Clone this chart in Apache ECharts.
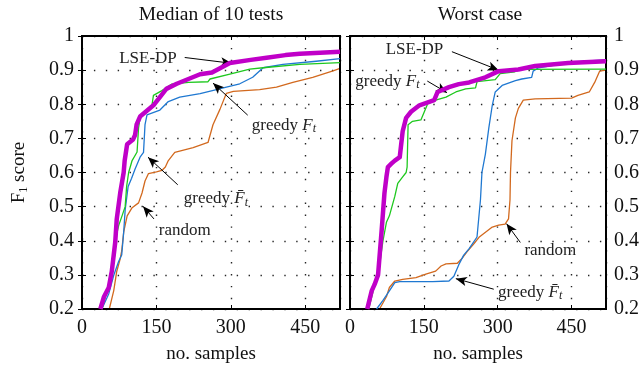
<!DOCTYPE html>
<html><head><meta charset="utf-8">
<script src="https://cdn.jsdelivr.net/npm/echarts@6/dist/echarts.min.js"></script>
<style>html,body{margin:0;padding:0;background:#fff}#c{width:642px;height:369px}</style>
</head><body><div id="c"></div>
<script>
// ---- data ----
const panelTitles = ['Median of 10 tests', 'Worst case'];
const xTickValues = [0, 150, 300, 450];
const yTickValues = [0.2, 0.3, 0.4, 0.5, 0.6, 0.7, 0.8, 0.9, 1];
const seriesNames = ['random', 'greedy F̄t', 'greedy Ft', 'LSE-DP'];

// Median of 10 tests
const medRandom = [[55,0.2],[64,0.254],[70,0.31],[77,0.347],[80,0.37],[84,0.425],[91,0.473],[101,0.497],[114,0.511],[121,0.54],[127,0.575],[134,0.597],[150,0.602],[161,0.606],[168,0.616],[174,0.635],[187,0.659],[224,0.673],[254,0.688],[264,0.74],[278,0.785],[291,0.832],[305,0.838],[358,0.843],[392,0.85],[425,0.864],[465,0.879],[506,0.898],[520,0.905]];
const medGreedyFbar = [[40,0.2],[54,0.245],[64,0.299],[74,0.34],[80,0.358],[84,0.425],[87,0.49],[93,0.559],[100,0.583],[107,0.61],[117,0.645],[124,0.659],[127,0.74],[131,0.769],[157,0.783],[174,0.808],[197,0.821],[238,0.831],[271,0.843],[291,0.85],[318,0.86],[344,0.879],[365,0.907],[405,0.917],[472,0.926],[520,0.934]];
const medGreedyF = [[40,0.2],[50,0.25],[60,0.3],[66,0.36],[70,0.42],[74,0.445],[80,0.47],[87,0.5],[90,0.56],[94,0.6],[101,0.635],[111,0.66],[114,0.731],[117,0.76],[124,0.774],[141,0.797],[144,0.826],[161,0.84],[181,0.859],[215,0.864],[254,0.866],[258,0.874],[298,0.888],[338,0.903],[365,0.907],[439,0.917],[520,0.922]];
const medLSE = [[37,0.2],[44,0.235],[54,0.263],[60,0.31],[67,0.396],[70,0.463],[77,0.54],[84,0.6],[86,0.635],[91,0.683],[103,0.697],[107,0.71],[110,0.74],[117,0.764],[144,0.797],[170,0.845],[191,0.86],[238,0.888],[262,0.893],[298,0.921],[340,0.93],[372,0.936],[410,0.944],[439,0.948],[480,0.951],[520,0.954]];

// Worst case
const wcRandom = [[60,0.2],[74,0.236],[80,0.263],[91,0.282],[107,0.287],[134,0.292],[154,0.302],[174,0.311],[185,0.326],[195,0.332],[218,0.334],[228,0.349],[238,0.368],[252,0.392],[262,0.41],[289,0.44],[302,0.446],[315,0.449],[322,0.464],[325,0.52],[326,0.6],[329,0.693],[336,0.76],[342,0.788],[352,0.812],[376,0.816],[450,0.818],[463,0.826],[486,0.836],[497,0.864],[507,0.897],[520,0.9]];
const wcGreedyFbar = [[54,0.2],[67,0.225],[80,0.253],[91,0.277],[101,0.28],[168,0.28],[201,0.282],[211,0.296],[221,0.33],[231,0.358],[242,0.377],[258,0.411],[262,0.415],[265,0.52],[268,0.6],[275,0.654],[282,0.731],[289,0.797],[295,0.836],[309,0.855],[336,0.869],[349,0.874],[369,0.879],[372,0.897],[383,0.907],[443,0.921],[476,0.926],[520,0.93]];
const wcGreedyF = [[38,0.2],[50,0.27],[58,0.3],[63,0.36],[67,0.4],[74,0.454],[80,0.473],[91,0.53],[97,0.568],[107,0.587],[114,0.6],[116,0.616],[118,0.74],[127,0.75],[144,0.754],[151,0.778],[158,0.802],[174,0.812],[195,0.821],[215,0.836],[235,0.845],[255,0.848],[258,0.866],[295,0.872],[305,0.89],[335,0.895],[342,0.902],[520,0.903]];
const wcLSE = [[35,0.2],[44,0.253],[50,0.272],[57,0.3],[64,0.425],[70,0.54],[74,0.587],[77,0.616],[84,0.626],[91,0.635],[101,0.645],[107,0.721],[114,0.76],[124,0.778],[141,0.797],[161,0.807],[171,0.812],[178,0.836],[201,0.85],[221,0.859],[242,0.864],[275,0.879],[302,0.897],[342,0.902],[376,0.912],[443,0.921],[520,0.926]];

// annotations: [text-key, textX, textY, arrowFromX, arrowFromY, arrowToX, arrowToY] in data units
const medNotes = [
  ['lse', 133, 0.934, 207, 0.937, 302, 0.92],
  ['gf', 407, 0.739, 334, 0.768, 264, 0.862],
  ['gfb', 270, 0.524, 193, 0.564, 133, 0.645],
  ['rnd', 207, 0.43, 145, 0.464, 123, 0.501]
];
const wcNotes = [
  ['lse', 131, 0.96, 207, 0.954, 302, 0.9],
  ['gf', 76, 0.868, 157, 0.868, 197, 0.834],
  ['rnd', 407, 0.372, 346, 0.395, 318, 0.45],
  ['gfb', 366, 0.249, 292, 0.258, 215, 0.289]
];

// ---- chart ----
const FONT = '"Liberation Serif", "DejaVu Serif", serif';
const INK = '#111';
const colors = ['#d2691e', '#1f78d1', '#1ec81e', '#c000c8'];
const widths = [1.3, 1.3, 1.3, 4.5];
const noteText = {
  lse: '{n|LSE-DP}',
  gf: '{n|greedy }{it|F}{sub|t}',
  gfb: '{n|greedy }{it|F\u0304}{sub|t}',
  rnd: '{n|random}'
};
const noteRich = {
  n: {fontFamily: FONT, fontSize: 17, color: '#222', lineHeight: 20},
  it: {fontFamily: FONT, fontSize: 17, fontStyle: 'italic', color: '#222', lineHeight: 20},
  sub: {fontFamily: FONT, fontSize: 12, fontStyle: 'italic', color: '#222', lineHeight: 12, verticalAlign: 'bottom'}
};
const gridLine = {show: true, lineStyle: {color: '#000', width: 1.4, type: [1.4, 10.5], opacity: 0.85}};
const tickStyle = {show: true, inside: true, length: 4, lineStyle: {color: '#000'}};

const chart = echarts.init(document.getElementById('c'));

function makeAxes(i, isRight) {
  const x = {
    type: 'value', gridIndex: i, min: 0, max: 520, interval: 150,
    axisLine: {show: false},
    axisTick: tickStyle,
    axisLabel: {fontFamily: FONT, fontSize: 20, color: INK, margin: 9,
      formatter: v => (xTickValues.indexOf(v) >= 0 ? String(v) : '')},
    splitLine: gridLine,
    name: 'no. samples', nameLocation: 'middle', nameGap: 36,
    nameTextStyle: {fontFamily: FONT, fontSize: 19, color: INK}
  };
  const y = {
    type: 'value', gridIndex: i, min: 0.2, max: 1, interval: 0.1,
    position: isRight ? 'right' : 'left',
    axisLine: {show: false},
    axisTick: tickStyle,
    axisLabel: {fontFamily: FONT, fontSize: 20, color: INK, margin: 8,
      formatter: v => {
        const hit = yTickValues.find(t => Math.abs(t - v) < 1e-6);
        return hit === undefined ? '' : String(hit);
      }},
    splitLine: gridLine
  };
  if (!isRight) {
    y.name = '{a|F}{sub|1}{a| score}';
    y.nameLocation = 'middle';
    y.nameRotate = 90;
    y.nameGap = 52;
    y.nameTextStyle = {rich: {
      a: {fontFamily: FONT, fontSize: 19, color: INK, lineHeight: 22},
      sub: {fontFamily: FONT, fontSize: 12, color: INK, lineHeight: 12, verticalAlign: 'bottom'}
    }};
  }
  // mirror axes (ticks only) on the opposite box edges
  const xm = {type: 'value', gridIndex: i, min: 0, max: 520, interval: 150, position: 'top',
    axisLine: {show: false}, axisTick: tickStyle, axisLabel: {show: false}, splitLine: {show: false}};
  const ym = {type: 'value', gridIndex: i, min: 0.2, max: 1, interval: 0.1, position: isRight ? 'left' : 'right',
    axisLine: {show: false}, axisTick: tickStyle, axisLabel: {show: false}, splitLine: {show: false}};
  return [x, y, xm, ym];
}

function makeSeries(i, datasets, notes) {
  return datasets.map((d, k) => {
    const s = {
      type: 'line', name: seriesNames[k], xAxisIndex: i, yAxisIndex: i,
      data: d, showSymbol: false, symbol: 'none', animation: false, silent: true,
      lineStyle: {color: colors[k], width: widths[k], join: 'round'},
      itemStyle: {color: colors[k]}, z: 2 + k
    };
    if (k === datasets.length - 1) {
      s.markLine = {
        silent: true, animation: false, symbol: ['none', 'arrow'], symbolSize: [7, 11],
        label: {show: false},
        lineStyle: {color: '#000', width: 1, type: 'solid'},
        emphasis: {disabled: true},
        data: notes.map(n => [{coord: [n[3], n[4]]}, {coord: [n[5], n[6]]}])
      };
      s.markPoint = {
        silent: true, animation: false, symbol: 'circle', symbolSize: 1,
        itemStyle: {color: 'rgba(0,0,0,0)'},
        label: {show: true, position: 'inside', rich: noteRich},
        data: notes.map(n => ({coord: [n[1], n[2]], label: {formatter: noteText[n[0]], rich: noteRich}}))
      };
    }
    return s;
  });
}

const a0 = makeAxes(0, false), a1 = makeAxes(1, true);
chart.setOption({
  animation: false,
  backgroundColor: '#fff',
  grid: [
    {left: 82, top: 36, width: 258, height: 279, show: true, borderColor: '#000', borderWidth: 2, backgroundColor: 'transparent', z: 3},
    {left: 350, top: 36, width: 259, height: 279, show: true, borderColor: '#000', borderWidth: 2, backgroundColor: 'transparent', z: 3}
  ],
  xAxis: [a0[0], a1[0], a0[2], a1[2]],
  yAxis: [a0[1], a1[1], a0[3], a1[3]],
  graphic: [
    {type: 'text', x: 211, y: 15, style: {text: panelTitles[0], font: '19.5px ' + FONT, fill: INK, align: 'center', verticalAlign: 'middle'}},
    {type: 'text', x: 480, y: 15, style: {text: panelTitles[1], font: '19.5px ' + FONT, fill: INK, align: 'center', verticalAlign: 'middle'}}
  ],
  series: [
    ...makeSeries(0, [medRandom, medGreedyFbar, medGreedyF, medLSE], medNotes),
    ...makeSeries(1, [wcRandom, wcGreedyFbar, wcGreedyF, wcLSE], wcNotes)
  ]
});
</script></body></html>
